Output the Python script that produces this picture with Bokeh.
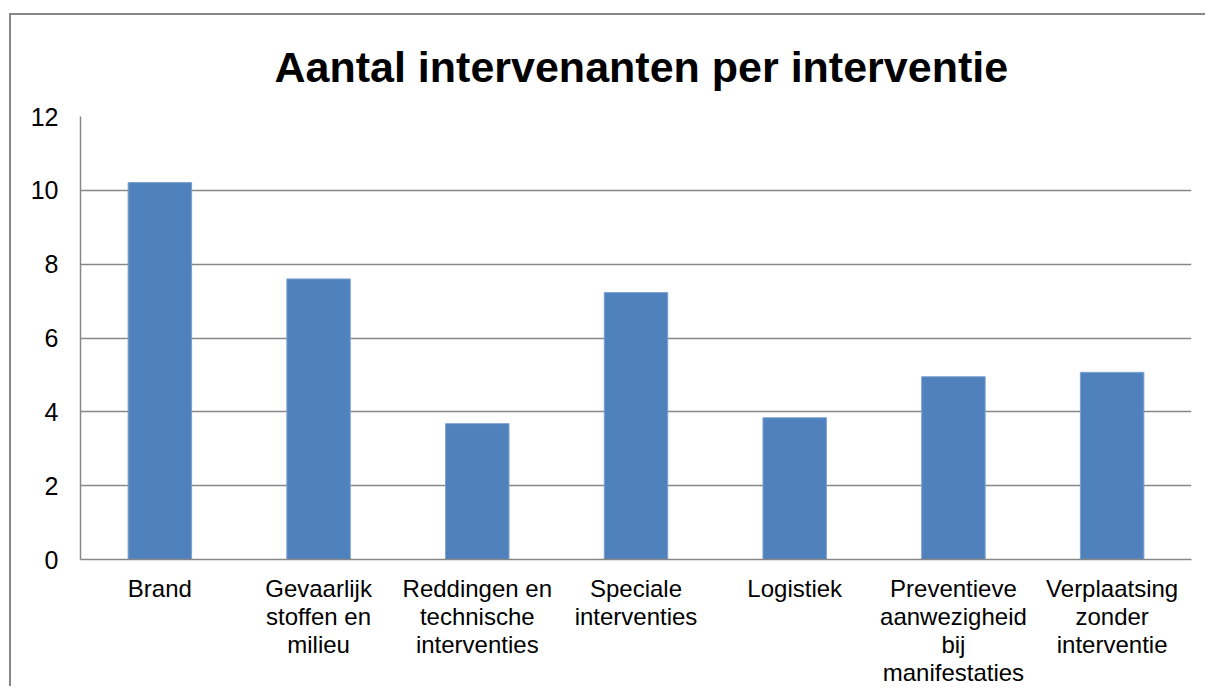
import json
from bokeh.plotting import figure
from bokeh.models import (FactorRange, Range1d, FixedTicker, ColumnDataSource,
                          CategoricalAxis, CustomJSTickFormatter)
from bokeh.embed import file_html
from bokeh.resources import INLINE

categories = ["Brand", "Gevaarlijk stoffen en milieu", "Reddingen en technische interventies",
              "Speciale interventies", "Logistiek", "Preventieve aanwezigheid bij manifestaties",
              "Verplaatsing zonder interventie"]
tick_labels = ["Brand", "Gevaarlijk\nstoffen en\nmilieu", "Reddingen en\ntechnische\ninterventies",
               "Speciale\ninterventies", "Logistiek", "Preventieve\naanwezigheid\nbij\nmanifestaties",
               "Verplaatsing\nzonder\ninterventie"]
values = [10.21, 7.60, 3.68, 7.23, 3.84, 4.95, 5.07]
y_ticks = [0, 2, 4, 6, 8, 10, 12]
title_text = "Aantal intervenanten per interventie"

FONT = "Liberation Sans"
GRAY = "#878787"

src = ColumnDataSource(dict(cat=categories, val=values))

p = figure(x_range=FactorRange(factors=categories, range_padding=0),
           y_range=Range1d(0, 12),
           width=1196, height=673,
           min_border_left=69, min_border_right=16, min_border_top=101, min_border_bottom=129,
           output_backend="svg", toolbar_location=None,
           title=title_text)
p.margin = (13, 0, 0, 9)
p.styles = {"border-top": "2px solid " + GRAY, "border-left": "2px solid " + GRAY}

p.vbar(x="cat", top="val", width=0.4, source=src, fill_color="#4F81BD",
       line_color="#7EA1CF", line_width=1)

p.title.text_font = FONT
p.title.text_font_size = "43px"
p.title.text_font_style = "bold"
p.title.text_color = "black"
p.title.align = "left"
p.title.offset = 194
p.title.standoff = 51

p.outline_line_color = None
p.xgrid.grid_line_color = None
p.ygrid.ticker = FixedTicker(ticks=y_ticks)
p.ygrid.grid_line_color = GRAY
p.ygrid.grid_line_width = 1.5

p.yaxis.ticker = FixedTicker(ticks=y_ticks)
p.yaxis.major_label_text_font = FONT
p.yaxis.major_label_text_font_size = "25px"
p.yaxis.major_label_text_color = "black"
p.yaxis.major_tick_line_color = None
p.yaxis.minor_tick_line_color = None
p.yaxis.major_tick_out = 0
p.yaxis.major_label_standoff = 22
p.yaxis.axis_line_color = GRAY
p.yaxis.axis_line_width = 1.5

# one categorical axis per label line, stacked below the plot
label_lines = [t.split("\n") for t in tick_labels]
n_lines = max(len(l) for l in label_lines)

def style_axis(ax, k):
    mapping = {c: (l[k] if k < len(l) else "") for c, l in zip(categories, label_lines)}
    ax.formatter = CustomJSTickFormatter(
        code="const m = %s; const v = m[tick]; return (v === undefined) ? '' : v;" % json.dumps(mapping))
    ax.major_label_text_font = FONT
    ax.major_label_text_font_size = "24px"
    ax.major_label_text_color = "black"
    ax.major_tick_line_color = None
    ax.minor_tick_line_color = None
    ax.major_tick_out = 0
    ax.major_tick_in = 0

xa = p.xaxis[0]
style_axis(xa, 0)
xa.major_label_standoff = 15
xa.axis_line_color = GRAY
xa.axis_line_width = 1.5

for k in range(1, n_lines):
    ax = CategoricalAxis()
    style_axis(ax, k)
    ax.major_label_standoff = -2
    ax.axis_line_color = None
    p.add_layout(ax, "below")

open("out.html", "w").write(file_html(p, INLINE))
